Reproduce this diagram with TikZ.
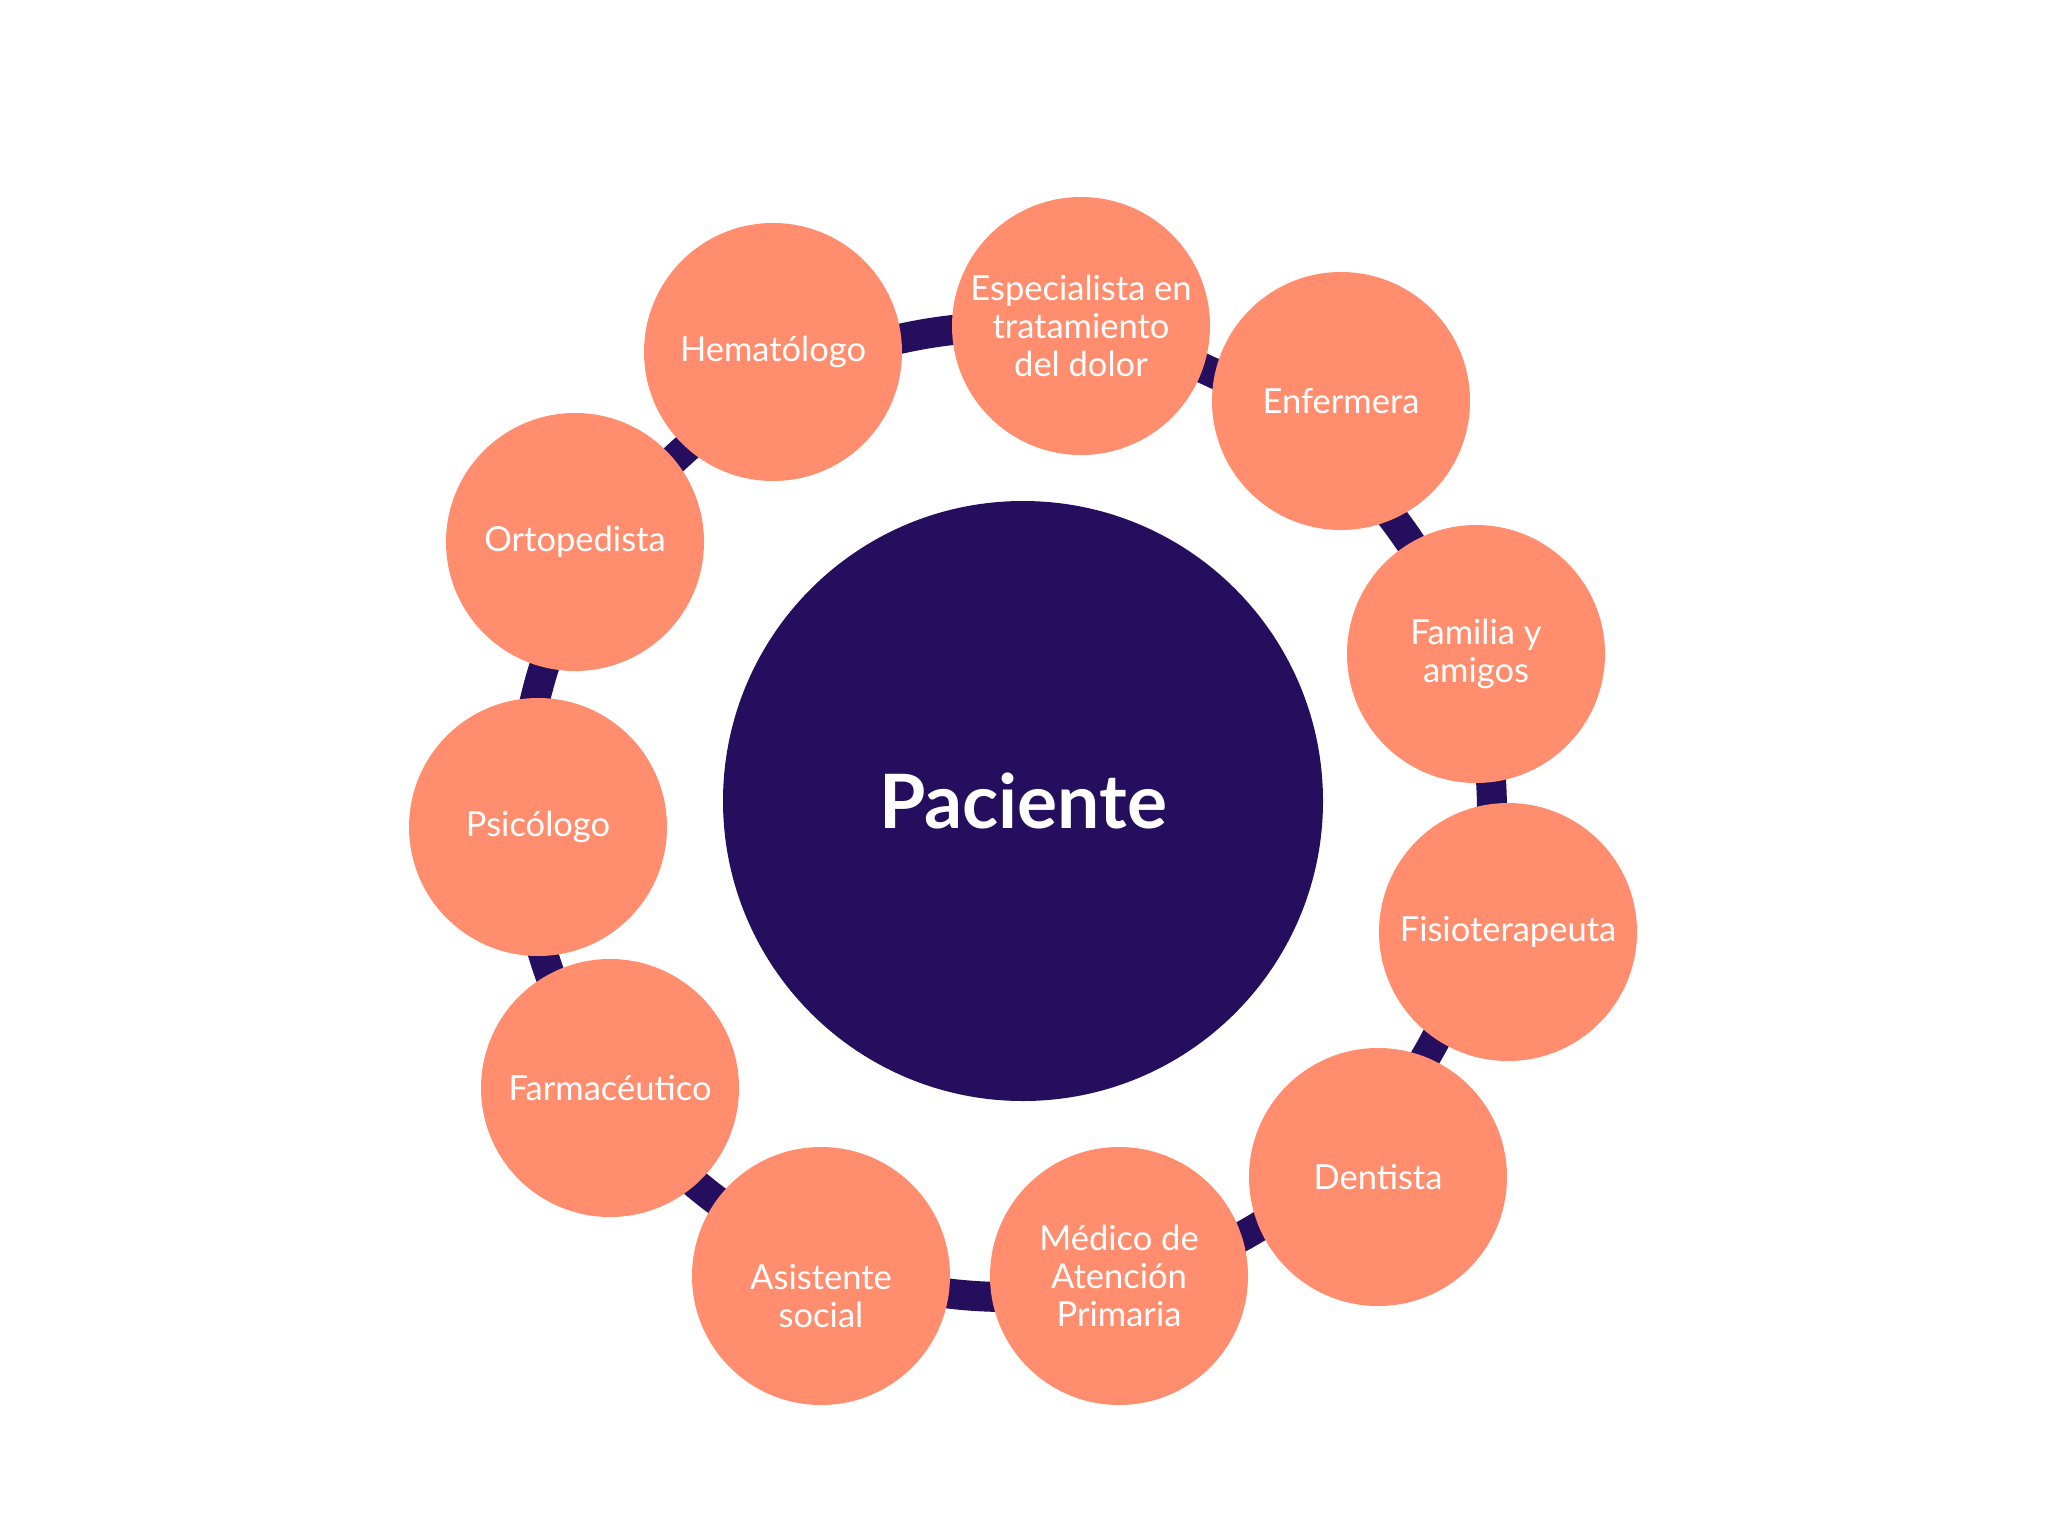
\documentclass[tikz,border=0pt]{standalone}
\usepackage{fontspec}
\setmainfont{Lato}
\usepackage{tikz}
\usetikzlibrary{calc}
\definecolor{salmon}{RGB}{255,141,110}
\definecolor{deepblue}{RGB}{36,14,93}
\tikzstyle{bubble} = [circle,fill=salmon,text=white,minimum size=258,inner sep=0pt,align=center,font=\fontsize{34.5}{38}\selectfont]

\begin{document}
\begin{tikzpicture}[x=1pt,y=1pt,yscale=-1,xscale=1]
\path[use as bounding box] (0,0) rectangle (2048,1536);

%Shape: Ring
\coordinate (ringc) at (1007,812);
\draw [color=deepblue,line width=30] (ringc) circle (485);

%Shape: Circle (centre)
\node (paciente) [circle,fill=deepblue,text=white,minimum size=600,inner sep=0pt,font=\bfseries\fontsize{75}{80}\selectfont] at (1023,801) {Paciente};

% Text Node
\node (hemat) [bubble] at (773,352) {Hematólogo};
% Text Node
\node (dolor) [bubble] at (1081,326) {Especialista en\\tratamiento\\del dolor};
% Text Node
\node (enferm) [bubble] at (1341,401) {Enfermera};
% Text Node
\node (familia) [bubble] at (1476,654) {Familia y\\amigos};
% Text Node
\node (fisio) [bubble] at (1508,932) {Fisioterapeuta};
% Text Node
\node (dentista) [bubble] at (1378,1177) {Dentista};
% Text Node
\node (medico) [bubble] at (1119,1276) {Médico de\\Atención\\Primaria};
% Text Node
\node (asist) [bubble] at (821,1276) {\strut\\Asistente\\social};
% Text Node
\node (farma) [bubble] at (610,1088) {Farmacéutico};
% Text Node
\node (psico) [bubble] at (538,827) {Psicólogo};
% Text Node
\node (orto) [bubble] at (575,542) {Ortopedista};

\end{tikzpicture}
\end{document}
